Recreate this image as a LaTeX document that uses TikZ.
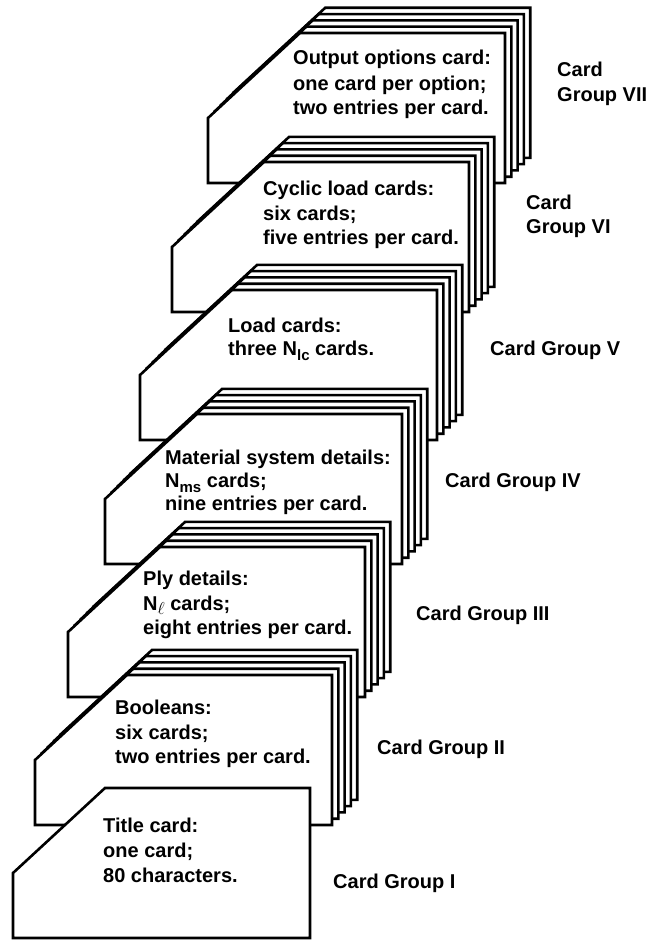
\documentclass[tikz,border=0pt]{standalone}
\usepackage{fontspec}
\setmainfont{Liberation Sans}
\newcommand\cardAt[2]{\path[cardline] (#1,#2) -- ++(0,-65) -- ++(92,-85) -- ++(205,0) -- ++(0,150) -- cycle;}
\newcommand\stackAt[2]{\foreach \k in {4,3,2,1}{\cardAt{#1+6.3*\k}{#2-6.3*\k}}\cardAt{#1}{#2}}
\newcommand\subtxt[1]{\raisebox{-5pt}{\fontsize{15}{15}\selectfont #1}}
\begin{document}
\begin{tikzpicture}[x=1pt,y=-1pt,
  cardline/.style={draw=black, fill=white, line width=2.6pt},
  txt/.style={anchor=base west, inner sep=0pt, font=\bfseries\fontsize{20}{24}\selectfont}]
\useasboundingbox (0,0) rectangle (650,942);
\fill[white] (0,0) rectangle (650,942);
% stacks, back to front
\stackAt{208}{183}
\stackAt{172}{312}
\stackAt{140}{440}
\stackAt{105}{564}
\stackAt{68}{697}
\stackAt{35}{825}
\cardAt{13}{938}
% card texts
\node[txt] (g7a) at (293,65) {Output options card:};
\node[txt] (g7b) at (293,90) {one card per option;};
\node[txt] (g7c) at (293,114) {two entries per card.};
\node[txt] (g6a) at (263,195) {Cyclic load cards:};
\node[txt] (g6b) at (263,220) {six cards;};
\node[txt] (g6c) at (263,244) {five entries per card.};
\node[txt] (g5a) at (228,332) {Load cards:};
\node[txt] (g5b) at (228,355) {three N\subtxt{lc} cards.};
\node[txt] (g4a) at (165,464) {Material system details:};
\node[txt] (g4b) at (165,487) {N\subtxt{ms} cards;};
\node[txt] (g4c) at (165,510) {nine entries per card.};
\node[txt] (g3a) at (143,585) {Ply details:};
\node[txt] (g3b) at (143,610) {N\raisebox{-4pt}{\fontsize{17}{17}\selectfont$\ell$} cards;};
\node[txt] (g3c) at (143,634) {eight entries per card.};
\node[txt] (g2a) at (115,714) {Booleans:};
\node[txt] (g2b) at (115,739) {six cards;};
\node[txt] (g2c) at (115,763) {two entries per card.};
\node[txt] (g1a) at (103,832) {Title card:};
\node[txt] (g1b) at (103,857) {one card;};
\node[txt] (g1c) at (103,882) {80 characters.};
% group labels
\node[txt] (l7a) at (557,77) {Card};
\node[txt] (l7b) at (557,101) {Group VII};
\node[txt] (l6a) at (526,209) {Card};
\node[txt] (l6b) at (526,233) {Group VI};
\node[txt] (l5) at (490,355) {Card Group V};
\node[txt] (l4) at (445,487) {Card Group IV};
\node[txt] (l3) at (416,620) {Card Group III};
\node[txt] (l2) at (377,754) {Card Group II};
\node[txt] (l1) at (333,888) {Card Group I};
\end{tikzpicture}
\end{document}
